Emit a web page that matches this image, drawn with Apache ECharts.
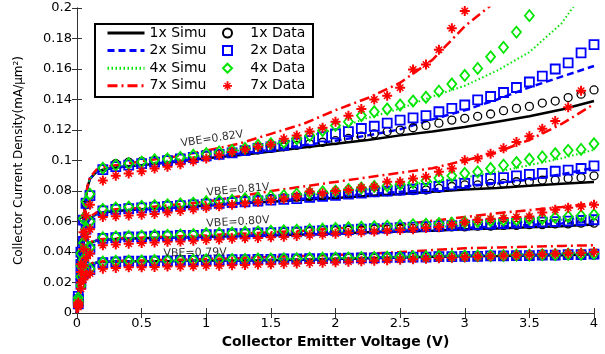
<!DOCTYPE html>
<html>
<head>
<meta charset="utf-8">
<style>
html, body { margin: 0; padding: 0; background: #fff; }
#chart { width: 605px; height: 354px; }
</style>
<script src="https://cdn.jsdelivr.net/npm/echarts@6/dist/echarts.min.js"></script>
</head>
<body>
<div id="chart"></div>
<script>
// x positions of the simulated curves and of the measured points (V)
var xSimu = [0, 0.02, 0.04, 0.06, 0.08, 0.1, 0.15, 0.2, 0.3, 0.5, 0.75, 1, 1.25, 1.5, 1.75, 2, 2.25, 2.5, 2.75, 3, 3.25, 3.5, 3.75, 4];
var xData = [0.01, 0.03, 0.05, 0.07,
	0.1, 0.2, 0.3, 0.4, 0.5, 0.6, 0.7, 0.8, 0.9, 1.0,
	1.1, 1.2, 1.3, 1.4, 1.5, 1.6, 1.7, 1.8, 1.9, 2.0,
	2.1, 2.2, 2.3, 2.4, 2.5, 2.6, 2.7, 2.8, 2.9, 3.0,
	3.1, 3.2, 3.3, 3.4, 3.5, 3.6, 3.7, 3.8, 3.9, 4.0];

var xTicks = [0, 0.5, 1, 1.5, 2, 2.5, 3, 3.5, 4];
var yTicks = [0, 0.02, 0.04, 0.06, 0.08, 0.1, 0.12, 0.14, 0.16, 0.18, 0.2];

var simuNames = ['1x Simu', '2x Simu', '4x Simu', '7x Simu'];
var dataNames = ['1x Data', '2x Data', '4x Data', '7x Data'];
var vbeLabels = ['VBE=0.82V', 'VBE=0.81V', 'VBE=0.80V', 'VBE=0.79V'];

// ---- VBE = 0.82V ----
var simu1x_82 = [0, 0.028, 0.052, 0.070, 0.082, 0.088, 0.0925, 0.094, 0.0955, 0.097, 0.099, 0.1015, 0.1035, 0.106, 0.1085, 0.111, 0.1135, 0.1165, 0.119, 0.122, 0.1255, 0.129, 0.1335, 0.139];
var simu2x_82 = [0, 0.028, 0.052, 0.070, 0.082, 0.088, 0.0925, 0.094, 0.0955, 0.097, 0.0995, 0.102, 0.1045, 0.107, 0.110, 0.113, 0.1165, 0.1205, 0.127, 0.133, 0.140, 0.148, 0.155, 0.162];
var simu4x_82 = [0, 0.028, 0.052, 0.070, 0.082, 0.088, 0.093, 0.0945, 0.096, 0.0975, 0.1005, 0.1035, 0.1065, 0.110, 0.115, 0.1205, 0.128, 0.134, 0.142, 0.149, 0.159, 0.171, 0.190, 0.220];
var simu7x_82 = [0, 0.028, 0.052, 0.070, 0.083, 0.089, 0.094, 0.0955, 0.097, 0.0995, 0.1025, 0.1065, 0.111, 0.1175, 0.124, 0.133, 0.141, 0.151, 0.166, 0.188, 0.205, null, null, null];

var data1x_82 = [0.010, 0.038, 0.060, 0.071,
	0.0775, 0.095, 0.098, 0.099, 0.0995, 0.100, 0.101, 0.102, 0.1025, 0.103,
	0.104, 0.105, 0.106, 0.107, 0.108, 0.109, 0.110, 0.111, 0.112, 0.113,
	0.1145, 0.116, 0.1175, 0.119, 0.120, 0.1215, 0.123, 0.1245, 0.1265, 0.1277,
	0.129, 0.1305, 0.1327, 0.1342, 0.1355, 0.1377, 0.139, 0.1413, 0.1435, 0.1463];
var data2x_82 = [0.011, 0.040, 0.061, 0.072,
	0.077, 0.094, 0.096, 0.097, 0.098, 0.099, 0.100, 0.101, 0.102, 0.103,
	0.104, 0.105, 0.1065, 0.108, 0.109, 0.110, 0.1115, 0.113, 0.1155, 0.1175,
	0.119, 0.121, 0.1225, 0.1245, 0.1265, 0.128, 0.1295, 0.132, 0.1342, 0.1364,
	0.1398, 0.142, 0.1446, 0.1479, 0.1515, 0.1554, 0.160, 0.164, 0.1706, 0.176];
var data4x_82 = [0.010, 0.039, 0.062, 0.073,
	0.078, 0.095, 0.097, 0.098, 0.099, 0.1005, 0.101, 0.102, 0.1035, 0.1045,
	0.1056, 0.1067, 0.108, 0.110, 0.111, 0.112, 0.1143, 0.1164, 0.1197, 0.123,
	0.1255, 0.1295, 0.132, 0.1338, 0.1364, 0.139, 0.1415, 0.1455, 0.1502, 0.1558,
	0.1604, 0.168, 0.1742, 0.1842, 0.195, null, null, null, null, null];
var data7x_82 = [0.007, 0.032, 0.053, 0.064,
	0.071, 0.087, 0.090, 0.0915, 0.093, 0.0948, 0.096, 0.0975, 0.0995, 0.1013,
	0.1035, 0.1056, 0.1073, 0.109, 0.1105, 0.1143, 0.1164, 0.119, 0.1215, 0.1255,
	0.1294, 0.1338, 0.140, 0.1424, 0.1478, 0.1597, 0.163, 0.1727, 0.1868, 0.198,
	null, null, null, null, null, null, null, null, null, null];

// ---- VBE = 0.81V ----
var simu1x_81 = [0, 0.022, 0.040, 0.052, 0.059, 0.062, 0.065, 0.066, 0.067, 0.068, 0.069, 0.0705, 0.072, 0.073, 0.0743, 0.0755, 0.0768, 0.078, 0.0795, 0.081, 0.082, 0.0835, 0.0848, 0.086];
var simu2x_81 = [0, 0.022, 0.040, 0.052, 0.059, 0.062, 0.065, 0.066, 0.067, 0.068, 0.069, 0.0705, 0.072, 0.0735, 0.075, 0.0765, 0.078, 0.0795, 0.081, 0.083, 0.085, 0.0875, 0.091, 0.0952];
var simu4x_81 = [0, 0.022, 0.040, 0.052, 0.059, 0.062, 0.065, 0.0665, 0.0675, 0.0685, 0.070, 0.0715, 0.073, 0.075, 0.077, 0.079, 0.081, 0.0835, 0.086, 0.089, 0.0925, 0.097, 0.1015, 0.107];
var simu7x_81 = [0, 0.022, 0.040, 0.052, 0.060, 0.063, 0.066, 0.067, 0.068, 0.069, 0.071, 0.073, 0.0765, 0.080, 0.083, 0.086, 0.089, 0.092, 0.095, 0.100, 0.1055, 0.1135, 0.124, 0.137];

var data1x_81 = [0.009, 0.031, 0.046, 0.054,
	0.060, 0.068, 0.069, 0.0695, 0.070, 0.0705, 0.071, 0.0715, 0.072, 0.0725,
	0.073, 0.0735, 0.074, 0.0745, 0.075, 0.0755, 0.076, 0.0765, 0.077, 0.0775,
	0.078, 0.0785, 0.079, 0.0795, 0.080, 0.0803, 0.0807, 0.0818, 0.083, 0.084,
	0.084, 0.085, 0.085, 0.0861, 0.0861, 0.0872, 0.0872, 0.0883, 0.0888, 0.090];
var data2x_81 = [0.009, 0.032, 0.047, 0.055,
	0.059, 0.067, 0.068, 0.0685, 0.069, 0.0695, 0.070, 0.0705, 0.071, 0.0715,
	0.072, 0.0725, 0.073, 0.0735, 0.074, 0.0745, 0.075, 0.0758, 0.0765, 0.0772,
	0.078, 0.0787, 0.0795, 0.080, 0.0807, 0.0812, 0.0818, 0.083, 0.084, 0.085,
	0.0872, 0.0883, 0.0888, 0.090, 0.0909, 0.0916, 0.093, 0.0937, 0.0948, 0.0965];
var data4x_81 = [0.008, 0.031, 0.046, 0.055,
	0.060, 0.068, 0.069, 0.0695, 0.070, 0.0705, 0.071, 0.0715, 0.072, 0.073,
	0.0735, 0.074, 0.075, 0.0755, 0.0765, 0.077, 0.078, 0.079, 0.0795, 0.080,
	0.081, 0.082, 0.083, 0.0835, 0.0845, 0.0855, 0.0868, 0.0885, 0.090, 0.0916,
	0.0926, 0.0948, 0.097, 0.0987, 0.1009, 0.1024, 0.1045, 0.1067, 0.1073, 0.111];
var data7x_81 = [0.006, 0.027, 0.042, 0.050,
	0.055, 0.063, 0.0635, 0.064, 0.0645, 0.065, 0.066, 0.067, 0.068, 0.069,
	0.070, 0.071, 0.072, 0.073, 0.074, 0.075, 0.0765, 0.0797, 0.0786, 0.080,
	0.0807, 0.0823, 0.083, 0.0861, 0.0861, 0.0883, 0.0894, 0.0926, 0.0948, 0.1002,
	0.1013, 0.1045, 0.108, 0.1121, 0.116, 0.1208, 0.126, 0.135, 0.1457, null];

// ---- VBE = 0.80V ----
var simu1x_80 = [0, 0.018, 0.031, 0.039, 0.044, 0.046, 0.0475, 0.048, 0.0485, 0.049, 0.0495, 0.050, 0.0505, 0.051, 0.0515, 0.052, 0.053, 0.0535, 0.054, 0.055, 0.0555, 0.0563, 0.057, 0.058];
var simu2x_80 = [0, 0.018, 0.031, 0.039, 0.044, 0.046, 0.0475, 0.048, 0.0485, 0.049, 0.0495, 0.050, 0.0505, 0.051, 0.0515, 0.0522, 0.053, 0.054, 0.055, 0.0558, 0.0568, 0.0578, 0.0588, 0.060];
var simu4x_80 = [0, 0.018, 0.031, 0.039, 0.044, 0.046, 0.0475, 0.048, 0.0487, 0.0493, 0.050, 0.0505, 0.051, 0.0518, 0.0525, 0.0533, 0.0542, 0.055, 0.0562, 0.0575, 0.0587, 0.0598, 0.0612, 0.063];
var simu7x_80 = [0, 0.018, 0.031, 0.039, 0.044, 0.0465, 0.048, 0.0485, 0.049, 0.0495, 0.0503, 0.051, 0.052, 0.053, 0.054, 0.0555, 0.0568, 0.058, 0.0605, 0.063, 0.0655, 0.0675, 0.0695, 0.072];

var data1x_80 = [0.007, 0.024, 0.035, 0.040,
	0.043, 0.0495, 0.050, 0.050, 0.0505, 0.0505, 0.051, 0.051, 0.0513, 0.0515,
	0.052, 0.052, 0.0523, 0.0525, 0.053, 0.053, 0.0533, 0.0535, 0.054, 0.054,
	0.0543, 0.0545, 0.055, 0.055, 0.0553, 0.0555, 0.056, 0.056, 0.0565, 0.0565,
	0.057, 0.057, 0.0575, 0.0575, 0.058, 0.058, 0.0585, 0.0585, 0.059, 0.059];
var data2x_80 = [0.008, 0.025, 0.036, 0.041,
	0.042, 0.049, 0.0495, 0.050, 0.050, 0.0505, 0.0505, 0.051, 0.051, 0.0515,
	0.0515, 0.052, 0.052, 0.0525, 0.0528, 0.053, 0.0533, 0.0537, 0.054, 0.0543,
	0.0547, 0.055, 0.0553, 0.0557, 0.056, 0.0563, 0.0567, 0.057, 0.0573, 0.0577,
	0.058, 0.0583, 0.0587, 0.059, 0.0593, 0.0597, 0.060, 0.0603, 0.0607, 0.0612];
var data4x_80 = [0.007, 0.024, 0.035, 0.041,
	0.043, 0.0495, 0.050, 0.0503, 0.0505, 0.051, 0.051, 0.0513, 0.0515, 0.052,
	0.0522, 0.0525, 0.053, 0.0533, 0.0537, 0.054, 0.0543, 0.0547, 0.055, 0.0555,
	0.056, 0.0563, 0.0567, 0.057, 0.0575, 0.058, 0.0583, 0.0587, 0.059, 0.0595,
	0.060, 0.0605, 0.061, 0.0613, 0.0617, 0.062, 0.0627, 0.0633, 0.0638, 0.0645];
var data7x_80 = [0.005, 0.020, 0.031, 0.036,
	0.039, 0.0445, 0.045, 0.0455, 0.046, 0.0463, 0.0467, 0.047, 0.0475, 0.048,
	0.0483, 0.0487, 0.049, 0.0493, 0.0497, 0.050, 0.0505, 0.051, 0.0515, 0.052,
	0.0525, 0.053, 0.0535, 0.054, 0.0545, 0.055, 0.0558, 0.0565, 0.058, 0.0595,
	0.0612, 0.0618, 0.0623, 0.063, 0.0634, 0.066, 0.0677, 0.069, 0.0699, 0.071];

// ---- VBE = 0.79V ----
var simu1x_79 = [0, 0.014, 0.024, 0.029, 0.031, 0.032, 0.033, 0.0335, 0.0338, 0.034, 0.0342, 0.0345, 0.0345, 0.0347, 0.035, 0.0355, 0.036, 0.0365, 0.037, 0.0373, 0.0375, 0.0378, 0.038, 0.0385];
var simu2x_79 = [0, 0.014, 0.024, 0.029, 0.031, 0.032, 0.033, 0.0335, 0.0338, 0.034, 0.0342, 0.0345, 0.0347, 0.035, 0.0353, 0.0357, 0.0362, 0.0367, 0.0372, 0.0376, 0.0379, 0.0382, 0.0386, 0.039];
var simu4x_79 = [0, 0.014, 0.024, 0.029, 0.031, 0.032, 0.033, 0.0335, 0.0338, 0.034, 0.0343, 0.0346, 0.035, 0.0353, 0.0357, 0.036, 0.0365, 0.037, 0.0375, 0.0379, 0.0383, 0.0387, 0.0393, 0.040];
var simu7x_79 = [0, 0.014, 0.024, 0.029, 0.031, 0.0325, 0.0335, 0.034, 0.0343, 0.0345, 0.035, 0.0355, 0.036, 0.0368, 0.0375, 0.038, 0.039, 0.040, 0.0413, 0.0425, 0.043, 0.0435, 0.044, 0.0445];

var data1x_79 = [0.006, 0.019, 0.025, 0.028,
	0.029, 0.0335, 0.034, 0.034, 0.0342, 0.0342, 0.0345, 0.0345, 0.0347, 0.0347,
	0.035, 0.035, 0.035, 0.0352, 0.0352, 0.0355, 0.0355, 0.0355, 0.0357, 0.0357,
	0.036, 0.036, 0.036, 0.0362, 0.0362, 0.0365, 0.0365, 0.0365, 0.0367, 0.0367,
	0.037, 0.037, 0.037, 0.0372, 0.0372, 0.0375, 0.0375, 0.0377, 0.0377, 0.038];
var data2x_79 = [0.006, 0.019, 0.026, 0.028,
	0.0285, 0.033, 0.0335, 0.034, 0.034, 0.0342, 0.0342, 0.0345, 0.0345, 0.0347,
	0.0347, 0.035, 0.035, 0.0352, 0.0352, 0.0355, 0.0355, 0.0357, 0.0357, 0.036,
	0.036, 0.0362, 0.0362, 0.0365, 0.0365, 0.0367, 0.0367, 0.037, 0.037, 0.0372,
	0.0372, 0.0375, 0.0375, 0.0377, 0.0377, 0.038, 0.038, 0.0383, 0.0383, 0.0386];
var data4x_79 = [0.006, 0.018, 0.025, 0.028,
	0.029, 0.0335, 0.034, 0.0342, 0.0342, 0.0345, 0.0345, 0.0347, 0.0347, 0.035,
	0.035, 0.0352, 0.0352, 0.0355, 0.0355, 0.0357, 0.0357, 0.036, 0.036, 0.0362,
	0.0362, 0.0365, 0.0365, 0.0367, 0.0367, 0.037, 0.037, 0.0372, 0.0372, 0.0375,
	0.0375, 0.0377, 0.0377, 0.038, 0.038, 0.0383, 0.0383, 0.0386, 0.0386, 0.039];
var data7x_79 = [0.004, 0.016, 0.022, 0.025,
	0.026, 0.029, 0.0295, 0.030, 0.030, 0.0302, 0.0305, 0.0305, 0.0307, 0.031,
	0.031, 0.0313, 0.0315, 0.0318, 0.032, 0.0323, 0.0325, 0.0328, 0.033, 0.0333,
	0.0336, 0.034, 0.0343, 0.0346, 0.035, 0.0353, 0.0356, 0.036, 0.0363, 0.0366,
	0.037, 0.0373, 0.0376, 0.038, 0.0383, 0.0386, 0.039, 0.0393, 0.0396, 0.040];

var simuGroups = [
	[simu1x_82, simu2x_82, simu4x_82, simu7x_82],
	[simu1x_81, simu2x_81, simu4x_81, simu7x_81],
	[simu1x_80, simu2x_80, simu4x_80, simu7x_80],
	[simu1x_79, simu2x_79, simu4x_79, simu7x_79]
];
var dataGroups = [
	[data1x_82, data2x_82, data4x_82, data7x_82],
	[data1x_81, data2x_81, data4x_81, data7x_81],
	[data1x_80, data2x_80, data4x_80, data7x_80],
	[data1x_79, data2x_79, data4x_79, data7x_79]
];

// MATLAB-like asterisk marker (plus + cross)
var starPath = 'path://M8,0L12,0L12,8L20,8L20,12L12,12L12,20L8,20L8,12L0,12L0,8L8,8Z' +
	'M2.5,4.5L4.5,2.5L10,8L15.5,2.5L17.5,4.5L12,10L17.5,15.5L15.5,17.5L10,12L4.5,17.5L2.5,15.5L8,10Z';

var lineLooks = [
	{ color: '#000000', type: 'solid', width: 2.5 },
	{ color: '#0000ff', type: [7, 4], width: 2.5 },
	{ color: '#00e600', type: [1.5, 2.5], width: 2 },
	{ color: '#ff0000', type: [10, 4, 2, 4], width: 2.5 }
];
var markLooks = [
	{ symbol: 'circle', size: 8, fill: 'rgba(0,0,0,0)', border: '#000000', bw: 1.3 },
	{ symbol: 'rect', size: 9, fill: 'rgba(0,0,0,0)', border: '#0000ff', bw: 1.8 },
	{ symbol: 'diamond', size: [9, 11], fill: 'rgba(0,0,0,0)', border: '#00e600', bw: 1.8 },
	{ symbol: starPath, size: 10, fill: '#ff0000', border: '#ff0000', bw: 0 }
];

function pairs(xs, ys) {
	var out = [];
	for (var i = 0; i < xs.length; i++) {
		if (ys[i] != null) out.push([xs[i], ys[i]]);
	}
	return out;
}

var series = [];
for (var g = 0; g < simuGroups.length; g++) {
	for (var k = 0; k < 4; k++) {
		var lk = lineLooks[k];
		series.push({
			type: 'line',
			name: simuNames[k],
			data: pairs(xSimu, simuGroups[g][k]),
			symbol: 'none',
			showSymbol: false,
			clip: true,
			z: 2,
			color: lk.color,
			lineStyle: { color: lk.color, type: lk.type, width: lk.width },
			animation: false
		});
	}
}
for (var g2 = 0; g2 < dataGroups.length; g2++) {
	for (var m = 0; m < 4; m++) {
		var mk = markLooks[m];
		series.push({
			type: 'scatter',
			name: dataNames[m],
			data: pairs(xData, dataGroups[g2][m]),
			symbol: mk.symbol,
			symbolSize: mk.size,
			clip: true,
			z: 3 + m,
			color: mk.border,
			itemStyle: { color: mk.fill, borderColor: mk.border, borderWidth: mk.bw, opacity: 1 },
			animation: false
		});
	}
}

var fontMain = 'DejaVu Sans';
var axisColor = '#333';

// VBE annotations + legend frame
var vbePos = [[212, 139, 0.15], [238, 190, 0.09], [238, 222, 0.06], [195, 253, 0.02]];
var graphics = [{
	type: 'rect',
	z: 5,
	shape: { x: 95, y: 24, width: 218, height: 73 },
	style: { fill: '#fff', stroke: '#000', lineWidth: 2 }
}];
for (var t = 0; t < vbeLabels.length; t++) {
	graphics.push({
		type: 'text',
		x: vbePos[t][0],
		y: vbePos[t][1],
		rotation: vbePos[t][2],
		z: 10,
		style: {
			text: vbeLabels[t],
			fill: '#333',
			fontSize: 11,
			fontFamily: fontMain,
			align: 'center',
			verticalAlign: 'middle'
		}
	});
}

var legendText = { fontFamily: fontMain, fontSize: 14, color: '#000' };

var option = {
	backgroundColor: '#fff',
	animation: false,
	grid: { left: 77, right: 11, top: 8, bottom: 38 },
	xAxis: [{
		type: 'value',
		min: xTicks[0], max: xTicks[xTicks.length - 1], interval: 0.5,
		name: 'Collector Emitter Voltage (V)',
		nameLocation: 'middle',
		nameGap: 17,
		nameTextStyle: { fontFamily: fontMain, fontSize: 14, fontWeight: 'bold', color: '#000' },
		axisLine: { lineStyle: { color: axisColor, width: 1 } },
		axisTick: { inside: true, length: 5, lineStyle: { color: axisColor } },
		axisLabel: { fontFamily: fontMain, fontSize: 13, color: '#000', margin: 4, showMaxLabel: true, showMinLabel: true },
		splitLine: { show: false }
	}, {
		type: 'value', position: 'top',
		min: xTicks[0], max: xTicks[xTicks.length - 1], interval: 0.5,
		axisLine: { lineStyle: { color: axisColor, width: 1 } },
		axisTick: { inside: true, length: 5, lineStyle: { color: axisColor } },
		axisLabel: { show: false },
		splitLine: { show: false }
	}],
	yAxis: [{
		type: 'value',
		min: yTicks[0], max: yTicks[yTicks.length - 1], interval: 0.02,
		name: 'Collector Current Density(mA/\u03bcm\u00b2)',
		nameLocation: 'middle',
		nameGap: 52,
		nameTextStyle: { fontFamily: fontMain, fontSize: 12, color: '#000' },
		axisLine: { show: true, lineStyle: { color: axisColor, width: 1 } },
		axisTick: { show: true, inside: true, length: 5, lineStyle: { color: axisColor } },
		axisLabel: { fontFamily: fontMain, fontSize: 13, color: '#000', margin: 5, showMaxLabel: true, showMinLabel: true },
		splitLine: { show: false }
	}, {
		type: 'value', position: 'right',
		min: yTicks[0], max: yTicks[yTicks.length - 1], interval: 0.02,
		axisLine: { show: true, lineStyle: { color: axisColor, width: 1 } },
		axisTick: { show: true, inside: true, length: 5, lineStyle: { color: axisColor } },
		axisLabel: { show: false },
		splitLine: { show: false }
	}],
	legend: [{
		data: simuNames,
		orient: 'vertical',
		left: 106, top: 26,
		padding: 0,
		itemWidth: 37, itemHeight: 10, itemGap: 3.6,
		selectedMode: false,
		z: 6,
		// hide the symbol the line legend puts in the middle, keep the line
		itemStyle: { color: 'rgba(0,0,0,0)', borderColor: 'rgba(0,0,0,0)', borderWidth: 0 },
		lineStyle: { width: 3 },
		textStyle: legendText
	}, {
		data: dataNames,
		orient: 'vertical',
		left: 222, top: 26,
		padding: 0,
		itemWidth: 9, itemHeight: 9, itemGap: 3.6,
		selectedMode: false,
		z: 6,
		formatter: function (name) { return '   ' + name; },
		textStyle: legendText
	}],
	graphic: graphics,
	series: series
};

var myChart = echarts.init(document.getElementById('chart'), null, { renderer: 'canvas' });
myChart.setOption(option);
</script>
</body>
</html>
